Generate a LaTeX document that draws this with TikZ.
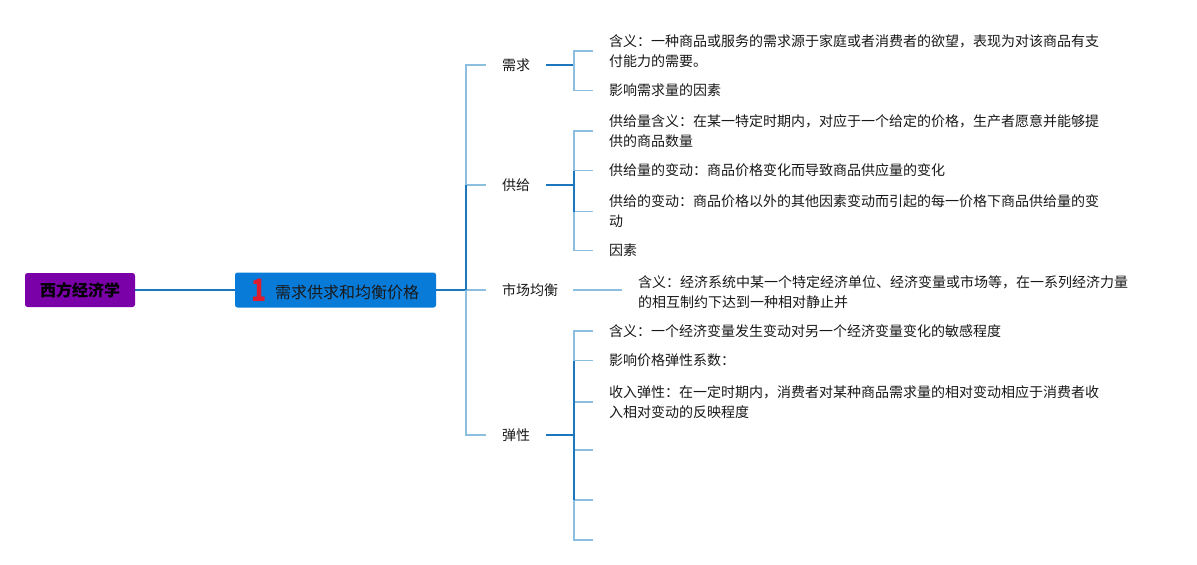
\documentclass[tikz,border=0pt]{standalone}
\usepackage{fontspec}
\setmainfont{Noto Sans CJK SC}
\definecolor{rootpurple}{RGB}{122,0,168}
\definecolor{mainblue}{RGB}{8,122,216}
\definecolor{darkline}{RGB}{28,118,190}
\definecolor{lightline}{RGB}{140,190,224}
\definecolor{txt}{RGB}{25,25,25}
\definecolor{numred}{RGB}{222,28,48}
\begin{document}
\begin{tikzpicture}[x=1pt,y=-1pt,
  darkconn/.style={draw=darkline,line width=1.9pt},
  lightconn/.style={draw=lightline,line width=1.9pt},
  leaf/.style={anchor=west,inner sep=0pt,align=left,text=txt,font=\fontsize{14}{20}\selectfont},
  lbl/.style={anchor=west,inner sep=0pt,text=txt,font=\fontsize{14}{20}\selectfont},
]
\useasboundingbox (0,0) rectangle (1197,565);
\fill[white] (0,0) rectangle (1197,565);

% root and main topic
\node[fill=rootpurple, rounded corners=2.5pt, minimum width=110pt, minimum height=34pt, inner sep=0pt,
      font=\bfseries\fontsize{16}{18}\selectfont, text=black] (root) at (80,290) {西方经济学};
\node[fill=mainblue, rounded corners=2.5pt, minimum width=201pt, minimum height=35pt, inner sep=0pt,
      text=txt, font=\fontsize{16}{18}\selectfont] (main) at (335.5,290)
      {\raisebox{-2.5pt}{\textcolor{numred}{\scalebox{0.8}[1]{\fontsize{31}{31}\selectfont\bfseries 1}}}\hspace{8pt}需求供求和均衡价格};

% level-1 labels
\node[lbl] (xq) at (502,65) {需求};
\node[lbl] (gj) at (502,185) {供给};
\node[lbl] (sc) at (502,290) {市场均衡};
\node[lbl] (tx) at (502,435) {弹性};

% trunk coordinates
\coordinate (t1) at (466,65);
\coordinate (t2) at (466,185);
\coordinate (t3) at (466,290);
\coordinate (t4) at (466,435);

% leaves
\node[leaf] (xq1) at (609,51) {含义：一种商品或服务的需求源于家庭或者消费者的欲望，表现为对该商品有支\\付能力的需要。};
\node[leaf] (xq2) at (609,90.5) {影响需求量的因素};

\node[leaf] (gj1) at (609,131) {供给量含义：在某一特定时期内，对应于一个给定的价格，生产者愿意并能够提\\供的商品数量};
\node[leaf] (gj2) at (609,170.5) {供给量的变动：商品价格变化而导致商品供应量的变化};
\node[leaf] (gj3) at (609,211.5) {供给的变动：商品价格以外的其他因素变动而引起的每一价格下商品供给量的变\\动};
\node[leaf] (gj4) at (609,250.5) {因素};

\node[leaf] (sc1) at (638,292.5) {含义：经济系统中某一个特定经济单位、经济变量或市场等，在一系列经济力量\\的相互制约下达到一种相对静止并};

\node[leaf] (tx1) at (609,331) {含义：一个经济变量发生变动对另一个经济变量变化的敏感程度};
\node[leaf] (tx2) at (609,360.5) {影响价格弹性系数：};
\node[leaf] (tx3) at (609,402) {收入弹性：在一定时期内，消费者对某种商品需求量的相对变动相应于消费者收\\入相对变动的反映程度};
\coordinate (tx4) at (593,450);
\coordinate (tx5) at (593,500);
\coordinate (tx6) at (593,540);

% bracket junctions
\coordinate (xqj) at (574,65);
\coordinate (gjj) at (574,185);
\coordinate (txj) at (574,435);
\coordinate (scend) at (622,290);

% connectors: root -> main -> trunk
\draw[darkconn] (root.east) -- (main.west);
\draw[darkconn] (main.east) -- (t3);
\draw[lightconn] ([xshift=-16pt]xq.west) -- (t1) -- (t2) -- ([xshift=-16pt]gj.west);
\draw[lightconn] ([xshift=-16pt]tx.west) -- (t4) -- (t3) -- ([xshift=-16pt]sc.west);
\draw[darkconn] (t2) -- (t3);

% 需求
\draw[darkconn] ([xshift=16pt]xq.east) -- (xqj);
\draw[lightconn] ([xshift=-16pt]xq1.west) -- (xq1.west -| xqj) -- (xq2.west -| xqj) -- ([xshift=-16pt]xq2.west);

% 供给
\draw[darkconn] ([xshift=16pt]gj.east) -- (gjj);
\draw[lightconn] ([xshift=-16pt]gj1.west) -- (gj1.west -| gjj) -- (gj2.west -| gjj);
\draw[lightconn] (gj2.west -| gjj) -- ([xshift=-16pt]gj2.west);
\draw[lightconn] (gj3.west -| gjj) -- ([xshift=-16pt]gj3.west);
\draw[lightconn] (gj3.west -| gjj) -- (gj4.west -| gjj) -- ([xshift=-16pt]gj4.west);
\draw[darkconn] (gj2.west -| gjj) -- (gj3.west -| gjj);

% 市场均衡
\draw[lightconn] ([xshift=15pt]sc.east) -- (scend);

% 弹性
\draw[darkconn] ([xshift=16pt]tx.east) -- (txj);
\draw[lightconn] ([xshift=-16pt]tx1.west) -- (tx1.west -| txj) -- (tx2.west -| txj);
\draw[lightconn] (tx2.west -| txj) -- ([xshift=-16pt]tx2.west);
\draw[lightconn] (tx3.west -| txj) -- ([xshift=-16pt]tx3.west);
\draw[lightconn] (tx4 -| txj) -- (tx4);
\draw[lightconn] (tx5 -| txj) -- (tx6 -| txj) -- (tx6);
\draw[lightconn] (tx5 -| txj) -- (tx5);
\draw[darkconn] (tx2.west -| txj) -- (tx5 -| txj);
\end{tikzpicture}
\end{document}
